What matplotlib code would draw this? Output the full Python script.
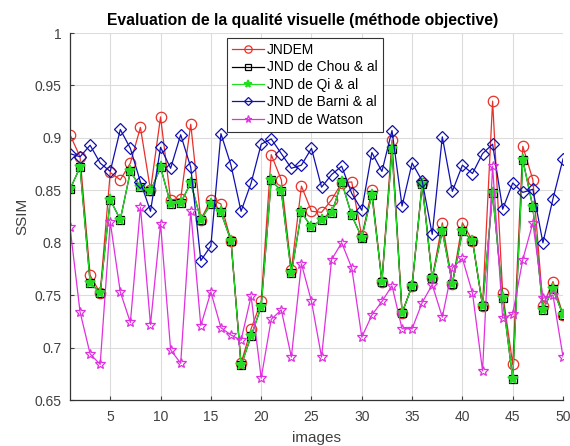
import matplotlib
matplotlib.use("Agg")
import matplotlib.pyplot as plt
import numpy as np

plt.rcParams['font.family'] = ['Liberation Sans', 'DejaVu Sans']

images = list(range(1, 51))

jndem = [0.903, 0.882, 0.769, 0.752, 0.867, 0.860, 0.876, 0.910, 0.850, 0.920,
         0.841, 0.842, 0.913, 0.822, 0.841, 0.837, 0.802, 0.685, 0.718, 0.744,
         0.884, 0.860, 0.774, 0.854, 0.830, 0.829, 0.841, 0.857, 0.858, 0.806,
         0.850, 0.763, 0.898, 0.733, 0.759, 0.857, 0.766, 0.819, 0.761, 0.819,
         0.802, 0.740, 0.935, 0.752, 0.684, 0.892, 0.860, 0.740, 0.763, 0.731]

chou = [0.851, 0.872, 0.762, 0.752, 0.841, 0.822, 0.868, 0.853, 0.849, 0.872,
        0.837, 0.838, 0.857, 0.822, 0.837, 0.829, 0.802, 0.683, 0.711, 0.739,
        0.860, 0.849, 0.771, 0.829, 0.815, 0.822, 0.828, 0.858, 0.826, 0.805,
        0.846, 0.763, 0.889, 0.733, 0.759, 0.856, 0.766, 0.811, 0.761, 0.811,
        0.802, 0.740, 0.847, 0.747, 0.670, 0.879, 0.834, 0.736, 0.756, 0.731]

qi = [0.851, 0.872, 0.762, 0.752, 0.841, 0.822, 0.868, 0.853, 0.849, 0.872,
      0.837, 0.838, 0.857, 0.822, 0.837, 0.829, 0.802, 0.683, 0.711, 0.739,
      0.860, 0.849, 0.771, 0.829, 0.815, 0.822, 0.828, 0.858, 0.826, 0.805,
      0.846, 0.763, 0.889, 0.733, 0.759, 0.856, 0.766, 0.811, 0.761, 0.811,
      0.802, 0.740, 0.847, 0.747, 0.670, 0.879, 0.834, 0.736, 0.756, 0.731]

barni = [0.885, 0.882, 0.893, 0.876, 0.868, 0.908, 0.890, 0.858, 0.830, 0.891,
         0.871, 0.903, 0.872, 0.783, 0.797, 0.904, 0.874, 0.830, 0.857, 0.894,
         0.899, 0.885, 0.871, 0.874, 0.890, 0.853, 0.865, 0.873, 0.847, 0.831,
         0.886, 0.868, 0.907, 0.835, 0.876, 0.859, 0.808, 0.901, 0.849, 0.874,
         0.866, 0.885, 0.894, 0.832, 0.857, 0.848, 0.851, 0.800, 0.842, 0.880]

watson = [0.815, 0.734, 0.694, 0.684, 0.820, 0.753, 0.724, 0.834, 0.722, 0.818,
          0.698, 0.685, 0.830, 0.721, 0.753, 0.719, 0.712, 0.707, 0.749, 0.671,
          0.727, 0.736, 0.691, 0.780, 0.744, 0.691, 0.784, 0.800, 0.776, 0.710,
          0.731, 0.744, 0.759, 0.718, 0.718, 0.743, 0.760, 0.729, 0.776, 0.785,
          0.752, 0.678, 0.873, 0.728, 0.732, 0.784, 0.819, 0.747, 0.750, 0.691]

labels = ['JNDEM', 'JND de Chou & al', 'JND de Qi & al', 'JND de Barni & al', 'JND de Watson']
xticks = [5, 10, 15, 20, 25, 30, 35, 40, 45, 50]
yticks = [0.65, 0.7, 0.75, 0.8, 0.85, 0.9, 0.95, 1.0]
yticklabels = ['0.65', '0.7', '0.75', '0.8', '0.85', '0.9', '0.95', '1']

fig = plt.figure(figsize=(5.7, 4.46), dpi=100)
ax = fig.add_axes([0.1228, 0.103, 0.865, 0.823])

lw = 0.9
ax.plot(images, jndem, color='#e8302a', lw=lw, marker='o', ms=7.5, mfc='none', mec='#e8302a', mew=0.9, label=labels[0])
ax.plot(images, chou, color='black', lw=lw, marker='s', ms=6, mfc='none', mec='black', mew=0.9, label=labels[1])
ax.plot(images, qi, color='#22dd22', lw=lw, marker='*', ms=8, mfc='#22dd22', mec='#22dd22', mew=1.2, label=labels[2])
ax.plot(images, barni, color='#1010b0', lw=lw, marker='D', ms=6, mfc='none', mec='#1010b0', mew=0.9, label=labels[3])
ax.plot(images, watson, color='#e030e0', lw=lw, marker='*', ms=7.5, mfc='none', mec='#e030e0', mew=0.9, label=labels[4])

ax.set_xlim(1, 50)
ax.set_ylim(0.65, 1.0)
ax.set_xticks(xticks)
ax.set_yticks(yticks)
ax.set_yticklabels(yticklabels)
ax.grid(True, color='#dcdcdc', lw=0.8)
ax.set_axisbelow(True)
ax.tick_params(labelsize=10, direction='in', length=3, colors='#404040', labelcolor='#404040')
ax.tick_params(axis='x', pad=7)
ax.tick_params(axis='y', pad=6)
ax.spines['top'].set_visible(False)
ax.spines['right'].set_visible(False)
for s in ['left', 'bottom']:
    ax.spines[s].set_color('#333333')
    ax.spines[s].set_linewidth(0.9)

ax.set_title('Evaluation de la qualité visuelle (méthode objective)', fontsize=11.3,
             fontweight='bold', pad=6, x=0.472)
ax.set_xlabel('images', fontsize=11, color='#404040', labelpad=5)
ax.set_ylabel('SSIM', fontsize=11, color='#404040', labelpad=4)

leg = ax.legend(loc='upper left', bbox_to_anchor=(0.319, 0.986), fontsize=9.9, labelspacing=0.25,
                handlelength=2.3, borderpad=0.35, handletextpad=0.25, fancybox=False, framealpha=1,
                edgecolor='#333333', borderaxespad=0, markerscale=0.7)
leg.get_frame().set_linewidth(0.8)

fig.savefig('out.png', dpi=100)
